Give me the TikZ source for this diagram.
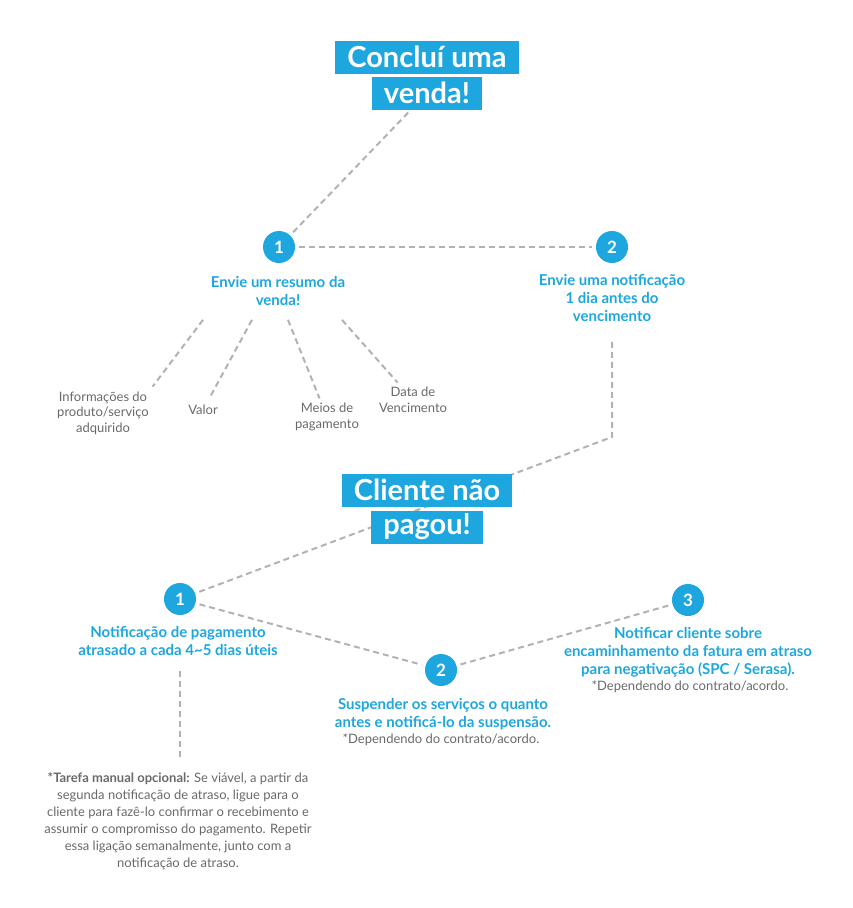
\documentclass[tikz,border=0pt]{standalone}
\usepackage{fontspec}
\setmainfont{Lato}
\usetikzlibrary{calc}
\definecolor{azul}{RGB}{29,167,222}
\definecolor{cinza}{RGB}{105,105,105}
\definecolor{traco}{RGB}{178,178,178}

\begin{document}
\begin{tikzpicture}[x=1pt,y=-1pt,
  titulo/.style={fill=azul,text=white,font=\bfseries\fontsize{29}{34}\selectfont,inner xsep=12pt,inner ysep=0pt,minimum height=33pt},
  num/.style={circle,fill=azul,text=white,minimum size=32pt,inner sep=0pt,font=\bfseries\fontsize{17}{20}\selectfont},
  passo/.style={text=azul,align=center,inner sep=0pt,font=\bfseries\fontsize{15}{18}\selectfont},
  obs/.style={text=cinza,align=center,inner sep=0pt,font=\fontsize{13}{15.5}\selectfont},
  liga/.style={draw=traco,line width=2pt,dash pattern=on 6pt off 4pt}]
\useasboundingbox (0,0) rectangle (853,908);

% venda
\node[titulo] (t1) at (427,57) {Concluí uma};
\node[titulo] (t2) at (427,93) {venda!};
\node[num] (n1) at (279,247) {1};
\node[num] (n2) at (612,247) {2};
\node[passo] (resumo) at (278,291) {Envie um resumo da\\venda!};
\node[passo] (aviso) at (612,298) {Envie uma notificação\\1 dia antes do\\vencimento};
\node[obs] (info) at (103,413) {Informações do\\produto/serviço\\adquirido};
\node[obs] (valor) at (203,410) {Valor};
\node[obs] (meios) at (327,417) {Meios de\\pagamento};
\node[obs] (data) at (413,400) {Data de\\Vencimento};

\draw[liga,shorten <=4pt,shorten >=2pt] (t2) -- (n1);
\draw[liga,shorten <=4pt,shorten >=4pt] (n1) -- (n2);
\coordinate (r1) at ($(resumo.south)+(-75,14)$);
\coordinate (r2) at ($(resumo.south)+(-26,14)$);
\coordinate (r3) at ($(resumo.south)+(10,14)$);
\coordinate (r4) at ($(resumo.south)+(64,14)$);
\draw[liga,shorten >=6pt] (r1) -- (info.north east);
\draw[liga,shorten >=8pt] (r2) -- (valor);
\draw[liga,shorten >=5pt] (r3) -- (meios);
\draw[liga,shorten >=6pt] (r4) -- (data);

% cliente
\node[num] (m1) at (180,599) {1};
\node[num] (m2) at (441,670) {2};
\node[num] (m3) at (688,600) {3};
\coordinate (dobra) at (612,437);
\draw[liga,shorten <=20pt] (aviso) -- (dobra) -- (m1);
\draw[liga,shorten <=4pt,shorten >=4pt] (m1) -- (m2);
\draw[liga,shorten <=4pt,shorten >=4pt] (m2) -- (m3);
\node[titulo] (c1) at (427,490) {Cliente não};
\node[titulo] (c2) at (427,527) {pagou!};

\node[passo] (atraso) at (178,641) {Notificação de pagamento\\atrasado a cada 4\textasciitilde5 dias úteis};
\node[passo] (suspende) at (443,714) {Suspender os serviços o quanto\\antes e notificá-lo da suspensão.};
\node[obs,anchor=north] (dep2) at (441,734) {*Dependendo do contrato/acordo.};
\node[passo] (negativa) at (688,652) {Notificar cliente sobre\\encaminhamento da fatura em atraso\\para negativação (SPC / Serasa).};
\node[obs,anchor=north] (dep3) at (690,681) {*Dependendo do contrato/acordo.};
\node[obs,font=\fontsize{13}{17}\selectfont] (tarefa) at (178,821) {\textbf{*Tarefa manual opcional:} Se viável, a partir da\\segunda notificação de atraso, ligue para o\\cliente para fazê-lo confirmar o recebimento e\\assumir o compromisso do pagamento. Repetir\\essa ligação semanalmente, junto com a\\notificação de atraso.};
\draw[liga,shorten <=15pt,shorten >=12pt] (atraso.south -| m1) -- (tarefa.north -| m1);

\end{tikzpicture}
\end{document}
